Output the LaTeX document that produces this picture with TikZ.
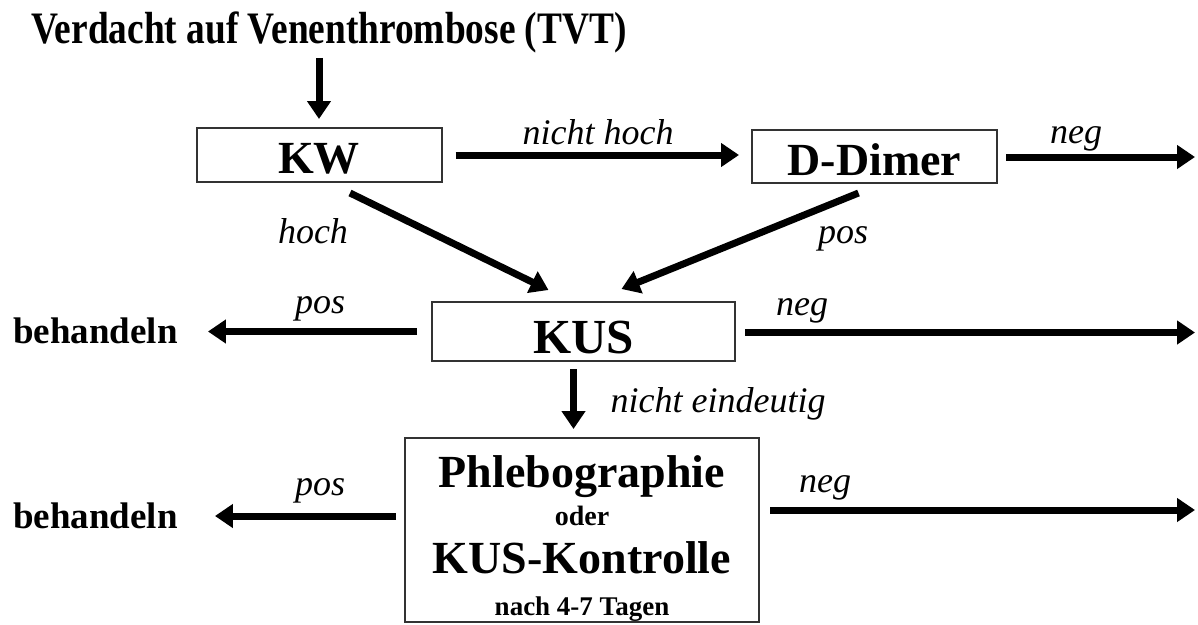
\documentclass[tikz,border=0pt]{standalone}
\usepackage{fontspec}
\usepackage{graphicx}
\setmainfont{Liberation Serif}
\usetikzlibrary{arrows.meta}

\begin{document}
\begin{tikzpicture}[x=1pt, y=-1pt, inner sep=0pt,
  box/.style={draw=black!80, line width=2pt, fill=white, font=\fontsize{46}{44}\bfseries\selectfont},
  arr/.style={line width=7pt, -{Triangle[length=18pt,width=23pt]}},
  lbl/.style={anchor=base, font=\fontsize{36}{40}\itshape\selectfont},
  txt/.style={anchor=base, font=\fontsize{37}{40}\bfseries\selectfont}]
\useasboundingbox[fill=white] (0,0) rectangle (1198,624);
\node (title) at (329,43) [anchor=base] {\scalebox{0.83}[1]{\fontsize{45}{48}\bfseries\selectfont Verdacht auf Venenthrombose (TVT)}};
\node (kw) at (319,155) [box, minimum width=245pt, minimum height=54pt, text height=36pt, text depth=0pt] {KW};
\node (dd) at (874.5,156.5) [box, minimum width=245pt, minimum height=53pt, text height=37pt, text depth=0pt] {D-Dimer};
\node (kus) at (583.5,331.5) [box, minimum width=303pt, minimum height=59pt, text height=44pt, text depth=0pt] {\fontsize{49}{44}\selectfont KUS};
\node (phleb) at (582,530) [box, minimum width=354pt, minimum height=184pt, align=center]
  {\rule{0pt}{48pt}Phlebographie\\[-6pt]{\fontsize{28}{30}\selectfont oder}\\[4pt]KUS-Kontrolle\\[-2pt]{\fontsize{27}{30}\selectfont nach 4-7 Tagen}};
\node (beh1) at (95.5,343) [txt] {behandeln};
\node (beh2) at (95.5,528) [txt] {behandeln};
\coordinate (e1) at (1195,157);
\coordinate (e2) at (1195,332.5);
\coordinate (e3) at (1195,510);
\draw[arr, shorten <=5pt, shorten >=8pt] (title.south -| kw.north) -- (kw.north);
\draw[arr, shorten <=13pt, shorten >=12pt] (kw.east) -- (kw.east -| dd.west);
\draw[arr, shorten <=8pt] (dd.east |- e1) -- (e1);
\draw[arr] ([shift={(31,10)}]kw.south) -- ([shift={(-35,-11)}]kus.north);
\draw[arr] ([shift={(-16,9)}]dd.south) -- ([shift={(38,-12)}]kus.north);
\draw[arr, shorten <=14pt, shorten >=30pt] (kus.west) -- (kus.west -| beh1.east);
\draw[arr, shorten <=9pt] (kus.east |- e2) -- (e2);
\draw[arr, shorten <=7pt, shorten >=8pt] ([xshift=-10pt]kus.south) -- ([xshift=-10pt]kus.south |- phleb.north);
\draw[arr, shorten <=8pt, shorten >=37pt] ([yshift=14pt]phleb.west) -- ([yshift=14pt]phleb.west -| beh2.east);
\draw[arr, shorten <=10pt] (phleb.east |- e3) -- (e3);
\node (l1) at (598,144) [lbl] {nicht hoch};
\node (l2) at (1076,143) [lbl] {neg};
\node (l3) at (313,243) [lbl] {hoch};
\node (l4) at (843,243) [lbl] {pos};
\node (l5) at (320,313) [lbl] {pos};
\node (l6) at (802,315) [lbl] {neg};
\node (l7) at (718,412) [lbl] {nicht eindeutig};
\node (l8) at (320,495) [lbl] {pos};
\node (l9) at (825,492) [lbl] {neg};
\end{tikzpicture}
\end{document}
